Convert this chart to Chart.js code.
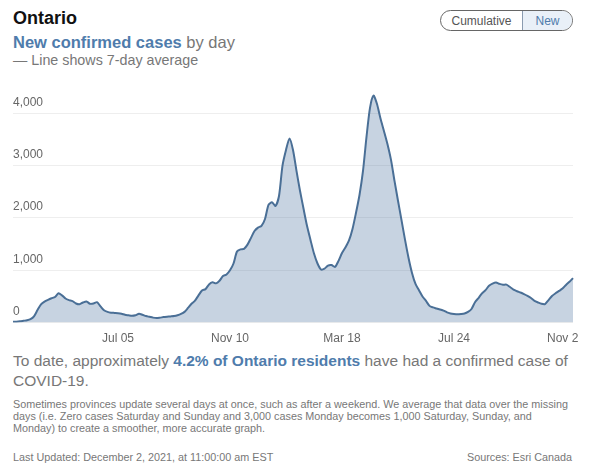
<!DOCTYPE html>
<html>
<head>
<meta charset="utf-8">
<script src="https://cdn.jsdelivr.net/npm/chart.js@4/dist/chart.umd.min.js"></script>
<style>
	body { margin:0; background:#fff; font-family: Arial, "Liberation Sans", sans-serif; width:608px; height:469px; position:relative; overflow:hidden; }
	.abs { position:absolute; }
	#title { left:13px; top:8px; font-size:18px; font-weight:bold; color:#111; }
	#sub { left:13px; top:33px; font-size:16.5px; color:#777; }
	#sub b { color:#4f7cac; }
	#note { left:13px; top:52px; font-size:14.3px; color:#777; }
	#toggle { left:440px; top:10px; width:131px; height:19px; border:1px solid #666; border-radius:11px; overflow:hidden; display:flex; font-size:12px; }
	#toggle span { display:flex; align-items:center; justify-content:center; }
	#toggle .cum { width:81px; color:#555; }
	#toggle .new { flex:1; background:#e9f0f8; color:#4f7cac; border-left:1px solid #8a9bb0; }
	#wrap { left:0; top:80px; width:578px; height:267px; overflow:hidden; }
	#summary { left:13px; top:351px; width:565px; font-size:15.5px; line-height:20px; color:#777; }
	#summary b { color:#4f7cac; }
	#fine { left:13px; top:398px; width:558px; font-size:10.8px; line-height:12.2px; color:#777; }
	#updated { left:13px; top:451px; font-size:10.8px; color:#777; }
	#sources { right:36px; top:451px; font-size:10.8px; color:#777; }
</style>
</head>
<body>
<div id="title" class="abs">Ontario</div>
<div id="sub" class="abs"><b>New confirmed cases</b> by day</div>
<div id="note" class="abs">— Line shows 7-day average</div>
<div id="toggle" class="abs"><span class="cum">Cumulative</span><span class="new">New</span></div>
<div id="wrap" class="abs"><canvas id="chart" width="608" height="267"></canvas></div>
<div id="summary" class="abs">To date, approximately <b>4.2% of Ontario residents</b> have had a confirmed case of COVID-19.</div>
<div id="fine" class="abs">Sometimes provinces update several days at once, such as after a weekend. We average that data over the missing days (i.e. Zero cases Saturday and Sunday and 3,000 cases Monday becomes 1,000 Saturday, Sunday, and Monday) to create a smoother, more accurate graph.</div>
<div id="updated" class="abs">Last Updated: December 2, 2021, at 11:00:00 am EST</div>
<div id="sources" class="abs">Sources: Esri Canada</div>
<script>
// 7-day average of new cases, read every 4 days starting 2020-03-07
const startDate = '2020-03-07';
const stepDays = 4;
const avgCases = [
	15, 18, 25, 35, 45, 65, 120, 240, 350, 400,
	435, 465, 490, 560, 520, 460, 430, 410, 365, 350,
	385, 405, 360, 365, 390, 310, 235, 205, 190, 185,
	180, 170, 150, 140, 130, 140, 170, 150, 125, 110,
	95, 88, 95, 105, 112, 118, 125, 140, 165, 205,
	280, 360, 420, 520, 615, 640, 730, 770, 750, 800,
	890, 920, 1000, 1130, 1360, 1400, 1410, 1490, 1620, 1750,
	1815, 1850, 1980, 2250, 2300, 2230, 2420, 3000, 3300, 3520,
	3300, 2900, 2520, 2180, 1850, 1580, 1320, 1130, 1015, 1030,
	1090, 1100, 1065, 1180, 1330, 1440, 1570, 1790, 2100, 2440,
	2900, 3550, 4105, 4340, 4180, 3900, 3660, 3410, 3110, 2710,
	2330, 1960, 1585, 1240, 950, 740, 620, 500, 415, 320,
	290, 270, 250, 230, 195, 175, 165, 160, 165, 175,
	205, 260, 390, 470, 560, 620, 705, 745, 765, 740,
	725, 725, 680, 630, 600, 575, 545, 510, 470, 415,
	385, 360, 355, 430, 510, 560, 605, 650, 720, 780,
	850
];
const tickDates = ['2020-07-05', '2020-11-10', '2021-03-18', '2021-07-24', '2021-11-29'];
const tickLabels = ['Jul 05', 'Nov 10', 'Mar 18', 'Jul 24', 'Nov 29'];
const yTicks = [0, 1000, 2000, 3000, 4000];

const dates = avgCases.map((_, i) => new Date(Date.parse(startDate) + i * stepDays * 864e5).toISOString().slice(0, 10));

new Chart(document.getElementById('chart'), {
	type: 'line',
	data: {
		labels: dates,
		datasets: [{
			data: avgCases,
			borderColor: '#4a6f96',
			borderWidth: 2,
			backgroundColor: 'rgba(70,110,155,0.3)',
			fill: 'origin',
			pointRadius: 0,
			tension: 0.25
		}]
	},
	options: {
		responsive: false,
		animation: false,
		layout: { padding: { left: 13, right: 35, top: 4.2, bottom: 0 } },
		plugins: { legend: { display: false }, tooltip: { enabled: false } },
		scales: {
			x: {
				grid: { display: false },
				border: { display: false },
				ticks: {
					autoSkip: false, maxRotation: 0, minRotation: 0, padding: 1,
					color: '#666', font: { family: 'Arial, "Liberation Sans"', size: 12 },
					callback: function(value) {
						const k = tickDates.indexOf(this.getLabelForValue(value));
						return k >= 0 ? tickLabels[k] : '';
					}
				}
			},
			y: {
				min: 0, max: 4500,
				grid: { color: '#eeeeee', drawTicks: false },
				border: { display: false },
				afterBuildTicks: (axis) => { axis.ticks = yTicks.map(v => ({ value: v })); },
				ticks: {
					mirror: true, padding: 0, labelOffset: -11,
					color: '#666', font: { family: 'Arial, "Liberation Sans"', size: 12 },
					callback: (v) => v.toLocaleString('en-US')
				}
			}
		}
	}
});
</script>
</body>
</html>
